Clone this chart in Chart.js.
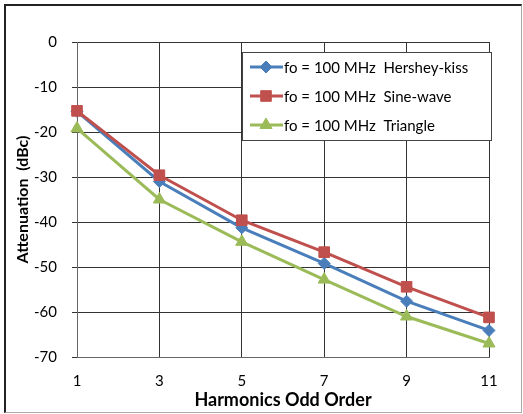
<!DOCTYPE html>
<html>
<head>
<meta charset="utf-8">
<script src="https://cdn.jsdelivr.net/npm/chart.js@4"></script>
<style>
  html, body { margin: 0; padding: 0; background: #fff; }
  #frame {
    position: absolute; left: 4px; top: 4px; width: 515px; height: 406px;
    border-top: 2px solid #222; border-left: 2px solid #222;
    border-right: 1px solid #aaa; border-bottom: 1px solid #aaa;
  }
  #chart { position: absolute; left: 0; top: 0; }
</style>
</head>
<body>
<div id="frame"></div>
<canvas id="chart" width="523" height="414"></canvas>
<script>
const harmonics = ['1', '3', '5', '7', '9', '11']
const hersheyKiss = [-15.4, -31.0, -41.3, -49.2, -57.6, -64.1]
const sineWave = [-15.3, -29.6, -39.6, -46.7, -54.4, -61.2]
const triangle = [-19.2, -35.0, -44.4, -52.8, -61.0, -67.0]
const seriesLabels = [
  'fo = 100 MHz  Hershey-kiss',
  'fo = 100 MHz  Sine-wave',
  'fo = 100 MHz  Triangle'
]

const FONT = 'Lato, "Open Sans", sans-serif'

// legend box drawn inside the plot, Excel style
const boxLegend = {
  id: 'boxLegend',
  afterDraw(chart) {
    const ctx = chart.ctx
    const x0 = 242, y0 = 52, w = 249, h = 88
    ctx.save()
    ctx.fillStyle = '#fff'
    ctx.fillRect(x0, y0, w, h)
    ctx.strokeStyle = '#444'
    ctx.lineWidth = 1
    ctx.strokeRect(x0 + 0.5, y0 + 0.5, w, h)
    chart.data.datasets.forEach((ds, i) => {
      const y = 67 + i * 29
      ctx.strokeStyle = ds.borderColor
      ctx.lineWidth = 3
      ctx.beginPath()
      ctx.moveTo(250, y)
      ctx.lineTo(283, y)
      ctx.stroke()
      ctx.fillStyle = ds.borderColor
      ctx.lineWidth = 1
      Chart.helpers.drawPoint(ctx, {
        pointStyle: ds.pointStyle, radius: ds.pointRadius, borderWidth: 1, rotation: 0
      }, 266, y)
      ctx.fillStyle = '#000'
      ctx.font = '15px ' + FONT
      ctx.textBaseline = 'middle'
      ctx.textAlign = 'left'
      ctx.fillText(ds.label, 284, y + 1)
    })
    ctx.restore()
  }
}

new Chart(document.getElementById('chart'), {
  type: 'line',
  data: {
    labels: harmonics,
    datasets: [
      {
        label: seriesLabels[0], data: hersheyKiss, order: 3,
        borderColor: '#4A7EBB', backgroundColor: '#4A7EBB', borderWidth: 3,
        pointStyle: 'rectRot', pointRadius: 6, pointBorderWidth: 1
      },
      {
        label: seriesLabels[1], data: sineWave, order: 2,
        borderColor: '#C0504D', backgroundColor: '#C0504D', borderWidth: 3,
        pointStyle: 'rect', pointRadius: 7.5, pointBorderWidth: 1
      },
      {
        label: seriesLabels[2], data: triangle, order: 1,
        borderColor: '#9BBB59', backgroundColor: '#9BBB59', borderWidth: 3,
        pointStyle: 'triangle', pointRadius: 7, pointBorderWidth: 1
      }
    ]
  },
  options: {
    responsive: false,
    devicePixelRatio: 1,
    animation: false,
    layout: { padding: { top: 42, right: 34, left: 0, bottom: 0 } },
    plugins: { legend: { display: false }, tooltip: { enabled: false } },
    scales: {
      x: {
        offset: false,
        grid: { color: '#333', drawTicks: false },
        border: { color: '#666' },
        ticks: { color: '#000', font: { family: FONT, size: 15 }, padding: 15, maxRotation: 0 },
        title: {
          display: true, text: 'Harmonics Odd Order', color: '#000',
          font: { family: FONT, size: 18, weight: 'bold' }, padding: { top: 0, bottom: 3 }
        },
        afterFit(scale) { scale.height = 57 }
      },
      y: {
        min: -70, max: 0,
        grid: { color: '#333', tickLength: 5 },
        border: { color: '#666' },
        ticks: { stepSize: 10, color: '#000', font: { family: FONT, size: 15 }, padding: 15 },
        title: {
          display: true, text: 'Attenuation  (dBc)', color: '#000',
          font: { family: FONT, size: 16, weight: 'bold' }, padding: { top: 13, bottom: 0 }
        },
        afterFit(scale) { scale.width = 77 }
      }
    }
  },
  plugins: [boxLegend]
})
</script>
</body>
</html>
